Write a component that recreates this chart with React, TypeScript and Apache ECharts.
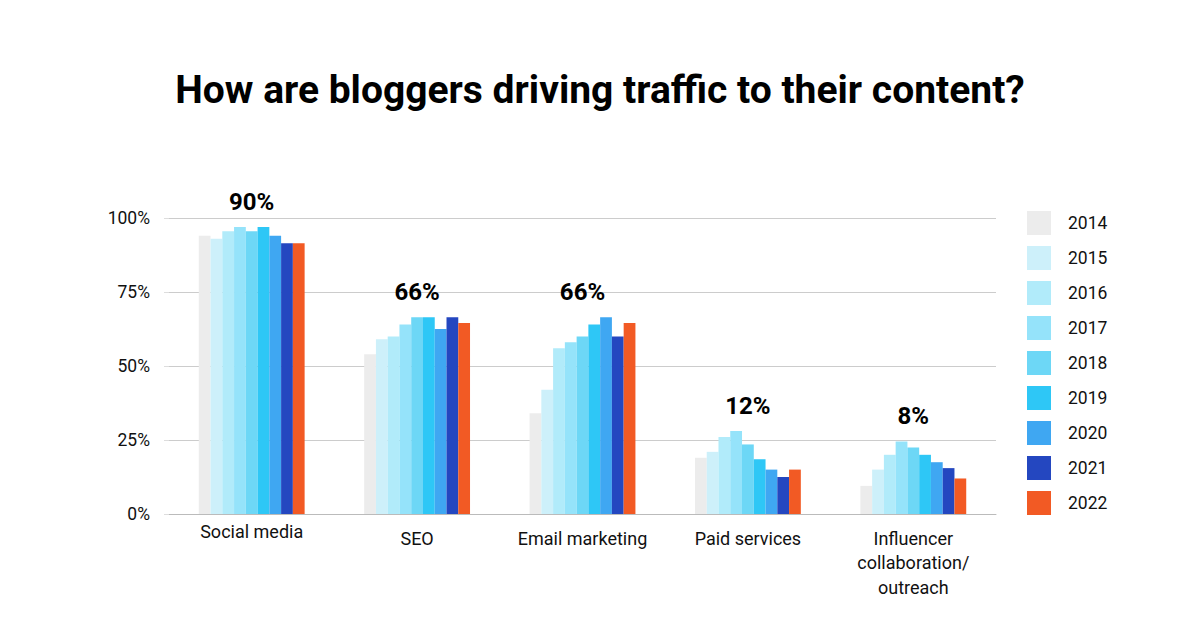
import React, { useEffect, useRef } from "react";
import * as echarts from "echarts";

const categories = ["Social media", "SEO", "Email marketing", "Paid services", "Influencer\ncollaboration/\noutreach"];
const years = ["2014", "2015", "2016", "2017", "2018", "2019", "2020", "2021", "2022"];
const colors = ["#ececec", "#cdf0fa", "#b1ebfa", "#95e3fa", "#6dd7f6", "#2ec7f6", "#3fa7f2", "#2447c0", "#f25a24"];

// values per year, in category order
const v2014 = [94, 54, 34, 19, 9.5];
const v2015 = [93, 59, 42, 21, 15];
const v2016 = [95.5, 60, 56, 26, 20];
const v2017 = [97, 64, 58, 28, 24.5];
const v2018 = [95.5, 66.5, 60, 23.5, 22.5];
const v2019 = [97, 66.5, 64, 18.5, 20];
const v2020 = [94, 62.5, 66.5, 15, 17.5];
const v2021 = [91.5, 66.5, 60, 12.5, 15.5];
const v2022 = [91.5, 64.5, 64.5, 15, 12];
const seriesValues = [v2014, v2015, v2016, v2017, v2018, v2019, v2020, v2021, v2022];

const headline = [90, 66, 66, 12, 8];
const yTicks = [0, 25, 50, 75, 100];

export default function App() {
  const ref = useRef<HTMLDivElement>(null);
  useEffect(() => {
    const chart = echarts.init(ref.current!, null, { renderer: "svg" });
    const font = "Roboto, 'Noto Sans', sans-serif";
    const anchors = categories.map((_, i) => Math.max(...seriesValues.map((s) => s[i])));
    const barSeries: any[] = years.map((y, k) => ({
      name: y,
      type: "bar",
      data: seriesValues[k],
      itemStyle: { color: colors[k] },
      barGap: "0%",
      barCategoryGap: "36%",
    }));
    barSeries.push({
      name: "headline",
      type: "scatter",
      symbolSize: 0,
      data: anchors,
      itemStyle: { opacity: 1 },
      label: {
        show: true,
        position: "top",
        distance: 13,
        formatter: (p: any) => headline[p.dataIndex] + "%",
        fontFamily: font,
        fontSize: 24,
        fontWeight: "bold",
        color: "#000",
      },
      z: 10,
    });
    chart.setOption({
      animation: false,
      backgroundColor: "#ffffff",
      title: {
        text: "How are bloggers driving traffic to their content?",
        left: "center",
        top: 65,
        textStyle: { fontFamily: font, fontSize: 39, fontWeight: "bold", color: "#000" },
      },
      legend: {
        data: years,
        orient: "vertical",
        left: 1022,
        top: 206,
        itemWidth: 24,
        itemHeight: 24,
        itemGap: 11,
        icon: "rect",
        textStyle: { fontFamily: font, fontSize: 17.5, color: "#111", padding: [0, 0, 0, 12] },
      },
      grid: { left: 169, right: 204, top: 218, bottom: 116 },
      xAxis: {
        type: "category",
        data: categories.map((c, i) =>
          i === 0 ? { value: c, textStyle: { lineHeight: 10 } } : c
        ),
        axisLine: { lineStyle: { color: "#bbbbbb" } },
        axisTick: { show: false },
        axisLabel: { fontFamily: font, fontSize: 18, color: "#111", margin: 12, lineHeight: 24.5, interval: 0 },
      },
      yAxis: {
        type: "value",
        min: yTicks[0],
        max: yTicks[yTicks.length - 1],
        interval: 25,
        axisLine: { show: false },
        axisTick: { show: true, length: 5, lineStyle: { color: "#dddddd" } },
        splitLine: { lineStyle: { color: "#cccccc" } },
        axisLabel: { fontFamily: font, fontSize: 17.5, color: "#111", margin: 19, formatter: (v: number) => v + "%" },
      },
      series: barSeries,
    });
    return () => chart.dispose();
  }, []);
  return <div ref={ref} style={{ position: "fixed", left: 0, top: 0, width: 1200, height: 630 }} />;
}
